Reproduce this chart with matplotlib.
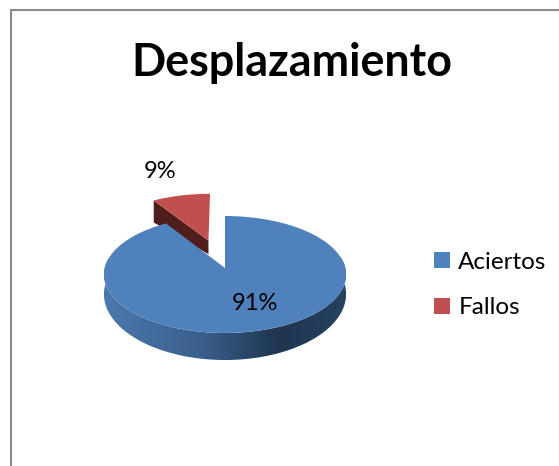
import numpy as np
import matplotlib
matplotlib.use('Agg')
import matplotlib.pyplot as plt
import matplotlib.transforms as mtransforms
from matplotlib.colors import LinearSegmentedColormap
from matplotlib.path import Path

title = "Desplazamiento"
categories = ["Aciertos", "Fallos"]
values = [91, 9]
explode = [0, 0.52]
colors = ['#4f81bd', '#c0504d']

# perspective of the tilted pie, in pixels of the picture
_center_x = 225
_center_y = 268
_radius_x = 120.3
_top_shift = -28
_tilt = 0.111
_wall_depth = 19
_red_apex_depth = 13.5
_red_corner_depth = 22

plt.rcParams['font.family'] = ['Lato', 'DejaVu Sans']


def _project(points):
    """ unit pie coordinates to picture pixels """
    points = np.asarray(points, dtype=float)
    u, v = points[:, 0], points[:, 1]
    div = 1 + _tilt * v
    return np.column_stack((_center_x + _radius_x * u / div,
                            (_center_y + _top_shift * v) / div))


class PieTilt(mtransforms.Transform):
    input_dims = 2
    output_dims = 2

    def transform_non_affine(self, values):
        return _project(values)


def _front_wall():
    theta = np.radians(np.linspace(170, 370, 200))
    rim = np.column_stack((np.cos(theta), np.sin(theta)))
    depth = _wall_depth / (1 + _tilt * rim[:, 1]) ** 3
    upper = _project(rim)
    lower = upper + np.column_stack((np.zeros(len(depth)), depth))
    return np.vstack((upper, lower[::-1]))


fig = plt.figure(figsize=(5.59, 4.66), dpi=100)
ax = fig.add_axes([0, 0, 1, 1])
wedges, _ = ax.pie(values, explode=explode, colors=colors, startangle=90,
                   counterclock=False, frame=True)
tilt = PieTilt() + ax.transData
for wedge in wedges:
    wedge.set_transform(tilt)
    wedge.set_linewidth(0)
wedges[1].set_zorder(2)
wedges[0].set_zorder(5)

# side wall of the exploded slice
fallos = wedges[1]
corner_angle = np.radians(fallos.theta2)
apex = np.array(fallos.center)
corner = apex + np.array([np.cos(corner_angle), np.sin(corner_angle)])
top_edge = _project([apex, corner])
ax.fill([top_edge[0, 0], top_edge[1, 0], top_edge[1, 0], top_edge[0, 0]],
        [top_edge[0, 1], top_edge[1, 1],
         top_edge[1, 1] + _red_corner_depth,
         top_edge[0, 1] + _red_apex_depth],
        color='#4f1e1c', linewidth=0, zorder=1)

# side wall of the big slice, shaded left to right
wall = _front_wall()
shade = LinearSegmentedColormap.from_list(
    'wall', [(0, '#4b79ae'), (0.4, '#3a5f8b'), (0.72, '#1f3550'),
             (1, '#254261')])
image = ax.imshow(np.linspace(0, 1, 256)[None, :], cmap=shade, aspect='auto',
                  extent=(wall[:, 0].min(), wall[:, 0].max(),
                          wall[:, 1].max(), wall[:, 1].min()),
                  zorder=4)
image.set_clip_path(Path(np.vstack((wall, wall[:1])), closed=True),
                    transform=ax.transData)

ax.set_xlim(0, 559)
ax.set_ylim(466, 0)
ax.set_aspect('auto')
ax.axis('off')

# chart area frame, cut by the picture on the right and below
ax.plot([11, 11, 559], [466, 10, 10], color='#898989', linewidth=1.5,
        solid_joinstyle='miter', zorder=1)

ax.text(292, 63, title, fontsize=32.3, fontweight='bold', color='black',
        ha='center', va='center')
ax.text(255, 303, f"{values[0]}%", fontsize=17, color='black',
        ha='center', va='center', zorder=6)
ax.text(160, 171, f"{values[1]}%", fontsize=17, color='black',
        ha='center', va='center', zorder=6)

ax.legend(wedges, categories, loc='upper left',
          bbox_to_anchor=(434 / 559, 1 - 252 / 466), frameon=False,
          fontsize=17.5, handlelength=0.64, handleheight=0.64,
          handletextpad=0.36, labelspacing=1.0, borderpad=0, borderaxespad=0)

fig.savefig('out.png', dpi=100)
